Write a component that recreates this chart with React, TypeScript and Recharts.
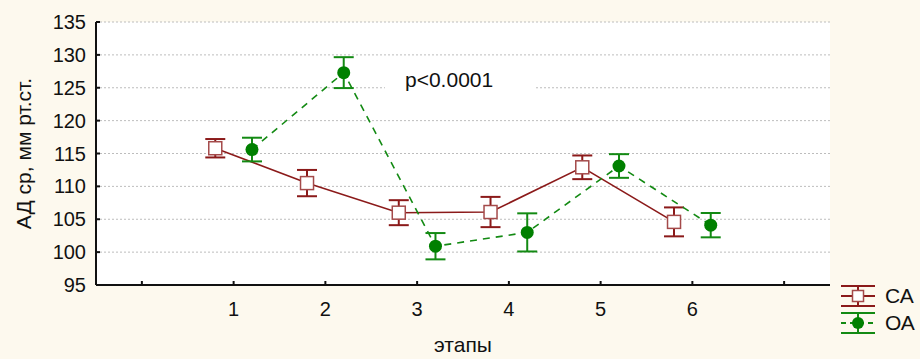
import React from 'react';
import {
  CartesianGrid,
  ComposedChart,
  ErrorBar,
  Legend,
  Line,
  ReferenceArea,
  XAxis,
  YAxis,
} from 'recharts';

// этапы и средние значения АД ср (мм рт.ст.) с ошибками
const stages = [1, 2, 3, 4, 5, 6];
const caMean = [115.8, 110.5, 106.0, 106.1, 112.9, 104.6];
const caErr = [1.4, 2.0, 1.9, 2.3, 1.8, 2.2];
const oaMean = [115.6, 127.3, 100.9, 103.0, 113.1, 104.1];
const oaErr = [1.8, 2.35, 2.0, 2.9, 1.8, 1.85];

const xTicks = [0, 1, 2, 3, 4, 5, 6, 7];
const yTicks = [95, 100, 105, 110, 115, 120, 125, 130, 135];
const seriesNames = ['СА', 'ОА'];
const pValueText = 'p<0.0001';

const CA_COLOR = '#8b1a1a';
const OA_COLOR = '#138a13';
const AXIS = '#111';
const FONT = '"Liberation Sans", Arial, sans-serif';

// groups are shifted a bit left/right of the stage tick
const caData = stages.map((s, i) => ({ x: s - 0.2, y: caMean[i], err: caErr[i] }));
const oaData = stages.map((s, i) => ({ x: s + 0.2, y: oaMean[i], err: oaErr[i] }));

const SquareDot = (props: any) => {
  const { cx, cy } = props;
  if (cx == null || cy == null) return null;
  return (
    <rect x={cx - 6.5} y={cy - 6.5} width={13} height={13} fill="#fff" stroke="#a44a4a" strokeWidth={1.5} />
  );
};

const CircleDot = (props: any) => {
  const { cx, cy } = props;
  if (cx == null || cy == null) return null;
  return <circle cx={cx} cy={cy} r={6.5} fill="#008000" />;
};

function LegendIcon({ kind }: { kind: number }) {
  const color = kind === 0 ? CA_COLOR : OA_COLOR;
  return (
    <svg width={34} height={22} style={{ display: 'block' }}>
      <line x1={0} y1={1} x2={34} y2={1} stroke={color} strokeWidth={2} />
      <line x1={0} y1={21} x2={34} y2={21} stroke={color} strokeWidth={2} />
      <line x1={17} y1={1} x2={17} y2={21} stroke={color} strokeWidth={2} />
      {kind === 0 ? (
        <>
          <line x1={0} y1={11} x2={34} y2={11} stroke={color} strokeWidth={2} />
          <rect x={11.5} y={5.5} width={11} height={11} fill="#fff" stroke="#a44a4a" strokeWidth={1.5} />
        </>
      ) : (
        <>
          <line x1={0} y1={11} x2={34} y2={11} stroke={color} strokeWidth={2} strokeDasharray="5 4" />
          <circle cx={17} cy={11} r={6} fill="#008000" />
        </>
      )}
    </svg>
  );
}

const renderLegend = () => (
  <div style={{ fontFamily: FONT }}>
    {seriesNames.map((name, i) => (
      <div key={name} style={{ display: 'flex', alignItems: 'center', height: 26.5 }}>
        <LegendIcon kind={i} />
        <span style={{ marginLeft: 10, fontSize: 21, color: '#111', lineHeight: '22px' }}>{name}</span>
      </div>
    ))}
  </div>
);

export default function App() {
  return (
    <div
      style={{
        position: 'absolute',
        left: 0,
        top: 0,
        width: 920,
        height: 359,
        overflow: 'hidden',
        background: '#fdf9ee',
        fontFamily: FONT,
      }}
    >
      <ComposedChart width={920} height={359} margin={{ top: 22, right: 90, bottom: 0, left: 0 }}>
        <CartesianGrid fill="#fff" stroke="#bdbdbd" strokeDasharray="2 2" vertical={false} />
        <XAxis
          dataKey="x"
          type="number"
          domain={[-0.5, 7.5]}
          ticks={xTicks}
          interval={0}
          height={74}
          tickSize={-4}
          tickMargin={21}
          tickFormatter={(v: number) => (v >= 1 && v <= 6 ? String(v) : '')}
          tick={{ fill: AXIS, fontSize: 20 }}
          axisLine={{ stroke: AXIS, strokeWidth: 2 }}
          tickLine={{ stroke: AXIS, strokeWidth: 2 }}
          label={{ value: 'этапы', position: 'insideBottom', offset: 7, fontSize: 21, fill: AXIS }}
        />
        <XAxis
          xAxisId="top"
          orientation="top"
          type="number"
          domain={[-0.5, 7.5]}
          ticks={xTicks}
          interval={0}
          height={0}
          tickSize={-4}
          tickFormatter={() => ''}
          axisLine={{ stroke: AXIS, strokeWidth: 2 }}
          tickLine={{ stroke: AXIS, strokeWidth: 2 }}
        />
        <YAxis
          type="number"
          domain={[95, 135]}
          ticks={yTicks}
          interval={0}
          width={96}
          tickSize={-4}
          tickMargin={14}
          tick={{ fill: AXIS, fontSize: 20 }}
          axisLine={{ stroke: AXIS, strokeWidth: 2 }}
          tickLine={{ stroke: AXIS, strokeWidth: 2 }}
          label={{
            value: 'АД ср, мм рт.ст.',
            angle: -90,
            position: 'insideLeft',
            offset: 24,
            fontSize: 21,
            fill: AXIS,
            style: { textAnchor: 'middle' },
          }}
        />
        <YAxis
          yAxisId="right"
          orientation="right"
          type="number"
          domain={[95, 135]}
          ticks={yTicks}
          interval={0}
          width={0}
          tickSize={-4}
          tickFormatter={() => ''}
          axisLine={{ stroke: AXIS, strokeWidth: 2 }}
          tickLine={{ stroke: AXIS, strokeWidth: 2 }}
        />
        <ReferenceArea
          x1={2.65}
          x2={4.29}
          y1={124.3}
          y2={128.3}
          fill="#fff"
          fillOpacity={1}
          stroke="none"
          label={{ value: pValueText, position: 'insideLeft', offset: 20, fontSize: 21, fill: AXIS }}
        />
        <Line
          data={caData}
          dataKey="y"
          name={seriesNames[0]}
          stroke={CA_COLOR}
          strokeWidth={1.6}
          dot={<SquareDot />}
          activeDot={false}
          isAnimationActive={false}
        >
          <ErrorBar dataKey="err" direction="y" width={10} stroke={CA_COLOR} strokeWidth={2} />
        </Line>
        <Line
          data={oaData}
          dataKey="y"
          name={seriesNames[1]}
          stroke={OA_COLOR}
          strokeWidth={1.6}
          strokeDasharray="7 6"
          dot={<CircleDot />}
          activeDot={false}
          isAnimationActive={false}
        >
          <ErrorBar dataKey="err" direction="y" width={10} stroke={OA_COLOR} strokeWidth={2} />
        </Line>
        <Legend
          layout="vertical"
          align="center"
          verticalAlign="middle"
          content={renderLegend}
          wrapperStyle={{ left: 841, top: 283, width: 79 }}
        />
      </ComposedChart>
    </div>
  );
}
